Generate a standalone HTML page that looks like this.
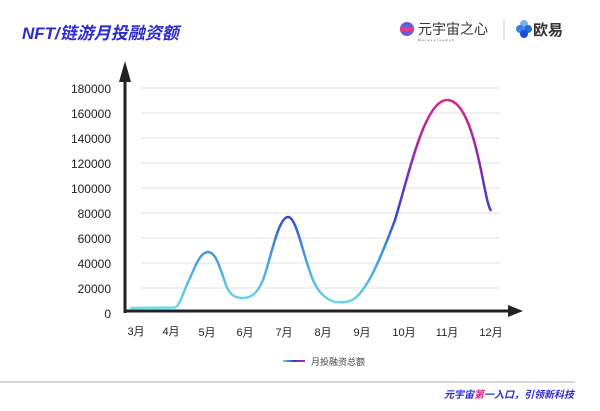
<!DOCTYPE html>
<html><head><meta charset="utf-8"><style>
body{margin:0;width:600px;height:406px;background:#fff;overflow:hidden;font-family:"Liberation Sans","Noto Sans CJK SC",sans-serif}
</style></head><body>
<svg width="600" height="406" viewBox="0 0 600 406" xmlns="http://www.w3.org/2000/svg" font-family="Liberation Sans, Noto Sans CJK SC, sans-serif">
<defs>
<linearGradient id="g" gradientUnits="userSpaceOnUse" x1="0" y1="310" x2="0" y2="100">
<stop offset="0" stop-color="#6be3ea"/>
<stop offset="0.3" stop-color="#3d8ee0"/>
<stop offset="0.45" stop-color="#2f48cc"/>
<stop offset="0.65" stop-color="#7a2cbc"/>
<stop offset="1" stop-color="#e0208a"/>
</linearGradient>
<linearGradient id="lg" x1="0" x2="1" y1="0" y2="0"><stop offset="0" stop-color="#5ad8e6"/><stop offset="0.5" stop-color="#3140c8"/><stop offset="1" stop-color="#d0207f"/></linearGradient>
</defs>
<text x="22" y="39" font-size="17" font-weight="bold" font-style="italic" fill="#2b2bd0">NFT/链游月投融资额</text>
<circle cx="407" cy="29" r="7" fill="#6a5ae0"/><rect x="400" y="27" width="14" height="4" fill="#e0408a"/>
<text x="418" y="34" font-size="14" fill="#333">元宇宙之心</text>
<text x="418" y="41" font-size="3" fill="#333" letter-spacing="1.5">MetaverseHub</text>
<line x1="504" y1="20" x2="504" y2="39" stroke="#ccc"/>
<circle cx="524" cy="24" r="4" fill="#7ab0ee"/><circle cx="520" cy="29" r="4" fill="#3a80e8"/><circle cx="528" cy="29" r="4" fill="#2a6ae0"/><circle cx="524" cy="34" r="4" fill="#1a50d0"/>
<text x="533" y="35" font-size="15" font-weight="bold" fill="#333">欧易</text>
<g stroke="#e2e2e2" stroke-width="1">
<line x1="141" y1="88" x2="500" y2="88"/><line x1="141" y1="113" x2="500" y2="113"/><line x1="141" y1="138" x2="500" y2="138"/><line x1="141" y1="163" x2="500" y2="163"/><line x1="141" y1="188" x2="500" y2="188"/><line x1="141" y1="213" x2="500" y2="213"/><line x1="141" y1="238" x2="500" y2="238"/><line x1="141" y1="263" x2="500" y2="263"/><line x1="141" y1="288" x2="500" y2="288"/>
</g>
<g font-size="12" fill="#222" text-anchor="end">
<text x="111" y="93">180000</text><text x="111" y="118">160000</text><text x="111" y="143">140000</text><text x="111" y="168">120000</text><text x="111" y="193">100000</text><text x="111" y="218">80000</text><text x="111" y="243">60000</text><text x="111" y="268">40000</text><text x="111" y="293">20000</text><text x="111" y="318">0</text>
</g>
<line x1="125" y1="72" x2="125" y2="313" stroke="#222" stroke-width="3"/>
<polygon points="119,82 131,82 125,61" fill="#222"/>
<line x1="124" y1="311" x2="512" y2="311" stroke="#222" stroke-width="3"/>
<polygon points="508,305 508,317 523,311" fill="#222"/>
<g font-size="11" fill="#222" text-anchor="middle">
<text x="136" y="335">3月</text><text x="171" y="335">4月</text><text x="207" y="336">5月</text><text x="245" y="336">6月</text><text x="284" y="336">7月</text><text x="323" y="336">8月</text><text x="362" y="336">9月</text><text x="404" y="336">10月</text><text x="447" y="336">11月</text><text x="491" y="336">12月</text>
</g>
<path d="M130,308 L175,307.5 C180,306 183,292 190,278 C196,264 201,252 208,252 C216,252 220,268 226,285 C230,296 236,298 243,298 C252,298 258,292 263,280 C270,262 278,217 288,217 C296,217 302,250 310,272 C315,288 322,297 332,301 C338,303 346,303 352,300 C366,293 380,260 395,220 C410,170 425,100 447,100 C465,100 475,140 482,175 C486,195 488,206 491,211" fill="none" stroke="url(#g)" stroke-width="2.5"/>
<rect x="283" y="360" width="22" height="2" fill="url(#lg)"/>
<text x="311" y="365" font-size="9" fill="#444">月投融资总额</text>
<line x1="0" y1="382" x2="575" y2="382" stroke="#ccc" stroke-width="1.5"/>
<text x="574" y="398" font-size="10" font-weight="bold" font-style="italic" fill="#2b2bd0" text-anchor="end">元宇宙<tspan fill="#e0208a">第</tspan>一入口，引领新科技</text>
</svg>
</body></html>
